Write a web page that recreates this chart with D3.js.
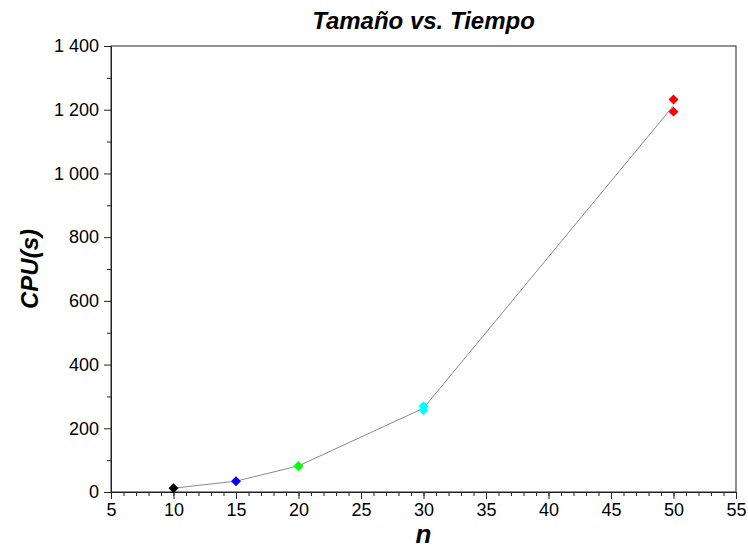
<!DOCTYPE html>
<html>
<head>
<meta charset="utf-8">
<script src="https://cdn.jsdelivr.net/npm/d3@7"></script>
<style>
  body { margin: 0; background: #fff; }
  svg { font-family: "Liberation Sans", Arial, sans-serif; }
</style>
</head>
<body>
<div id="chart"></div>
<script>
// data
var sizes = [10, 15, 20, 30, 50];
var runs = [
  [12],
  [34],
  [82],
  [257, 269],
  [1194, 1232]
];
var pointColors = ["#000000", "#0000ff", "#00ff00", "#00ffff", "#ff0000"];
var xTicks = [5, 10, 15, 20, 25, 30, 35, 40, 45, 50, 55];
var yTicks = [0, 200, 400, 600, 800, 1000, 1200, 1400];

// margin and size
var margin = { top: 46, right: 12, bottom: 58, left: 111 },
    width = 748 - margin.left - margin.right,
    height = 550 - margin.top - margin.bottom;

var svg = d3.select("#chart")
    .append("svg")
    .attr("width", 748)
    .attr("height", 550);

var g = svg.append("g")
    .attr("transform", "translate(" + margin.left + "," + margin.top + ")");

var x = d3.scaleLinear().domain([5, 55]).range([0, width]);
var y = d3.scaleLinear().domain([0, 1400]).range([height, 0]);

// thousands with a space
var fmt = function(d) { return d3.format(",")(d).replace(/,/g, " "); };

// frame
g.append("rect")
    .attr("width", width)
    .attr("height", height)
    .attr("fill", "none")
    .attr("stroke", "#222")
    .attr("stroke-width", 1);

// minor ticks
g.append("g")
    .attr("transform", "translate(0," + height + ")")
    .call(d3.axisBottom(x).ticks(50).tickSize(4).tickFormat(""))
    .call(function(a) { a.select(".domain").remove(); a.selectAll("line").attr("stroke", "#222"); });
g.append("g")
    .call(d3.axisLeft(y).tickValues(d3.range(100, 1400, 200)).tickSize(4).tickFormat(""))
    .call(function(a) { a.select(".domain").remove(); a.selectAll("line").attr("stroke", "#222"); });

// major ticks
var xAxis = g.append("g")
    .attr("transform", "translate(0," + height + ")")
    .call(d3.axisBottom(x).tickValues(xTicks).tickSize(7).tickPadding(4));
var yAxis = g.append("g")
    .call(d3.axisLeft(y).tickValues(yTicks).tickSize(7).tickPadding(5).tickFormat(fmt));

[xAxis, yAxis].forEach(function(a) {
  a.selectAll("text").attr("font-size", 18).attr("fill", "#000")
      .attr("font-family", "Liberation Sans, Arial, sans-serif");
  a.selectAll("line").attr("stroke", "#222");
  a.select(".domain").attr("stroke", "#222");
});

// mean line
var means = runs.map(function(r) { return d3.mean(r); });
var line = d3.line()
    .x(function(d, i) { return x(sizes[i]); })
    .y(function(d) { return y(d); });

g.append("path")
    .datum(means)
    .attr("d", line)
    .attr("fill", "none")
    .attr("stroke", "#8a8a8a")
    .attr("stroke-width", 1);

// diamonds (rotated squares)
var pts = [];
runs.forEach(function(r, i) {
  r.forEach(function(v) { pts.push({ n: sizes[i], v: v, c: pointColors[i] }); });
});
var diamond = d3.symbol().type(d3.symbolSquare).size(50);
g.selectAll(".pt")
    .data(pts)
    .enter().append("path")
    .attr("class", "pt")
    .attr("transform", function(d) { return "translate(" + x(d.n) + "," + y(d.v) + ") rotate(45)"; })
    .attr("d", diamond)
    .attr("fill", function(d) { return d.c; });

// title and axis labels
svg.append("text")
    .attr("x", margin.left + width / 2)
    .attr("y", 29)
    .attr("text-anchor", "middle")
    .attr("font-size", 24)
    .attr("font-weight", "bold")
    .attr("font-style", "italic")
    .text("Tamaño vs. Tiempo");

svg.append("text")
    .attr("x", margin.left + width / 2)
    .attr("y", 543)
    .attr("text-anchor", "middle")
    .attr("font-size", 26)
    .attr("font-weight", "bold")
    .attr("font-style", "italic")
    .text("n");

svg.append("text")
    .attr("transform", "translate(38," + (margin.top + height / 2) + ") rotate(-90)")
    .attr("text-anchor", "middle")
    .attr("font-size", 24)
    .attr("font-weight", "bold")
    .attr("font-style", "italic")
    .text("CPU(s)");
</script>
</body>
</html>
